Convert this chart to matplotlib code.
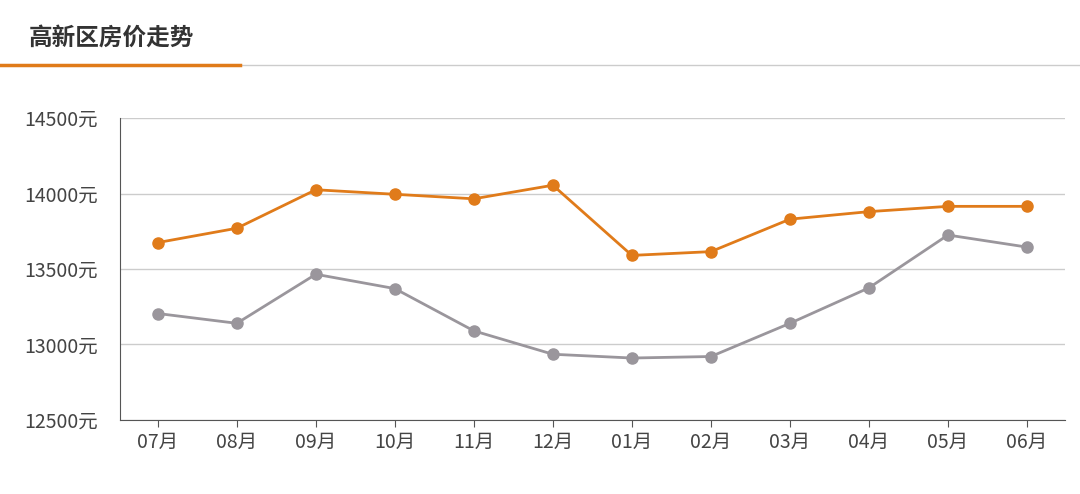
import matplotlib
matplotlib.use("Agg")
import matplotlib.pyplot as plt
from matplotlib.lines import Line2D

plt.rcParams['font.family'] = ['Noto Sans CJK SC', 'DejaVu Sans']

months = ["07月","08月","09月","10月","11月","12月","01月","02月","03月","04月","05月","06月"]
orange_vals = [13675, 13770, 14025, 13995, 13965, 14055, 13590, 13615, 13830, 13880, 13915, 13915]
gray_vals = [13205, 13140, 13465, 13370, 13090, 12935, 12910, 12920, 13140, 13375, 13725, 13645]
yticks = [12500, 13000, 13500, 14000, 14500]

fig = plt.figure(figsize=(10.8, 4.94), dpi=100)
ax = fig.add_axes([0.111, 0.150, 0.875, 0.611])
x = range(len(months))
ax.plot(x, gray_vals, color="#9a969c", lw=2, marker="o", ms=8, zorder=3)
ax.plot(x, orange_vals, color="#e07b1a", lw=2, marker="o", ms=8, zorder=4)
ax.set_xlim(-0.48, 11.48)
ax.set_ylim(12500, 14500)
ax.set_yticks(yticks)
ax.set_yticklabels([f"{v}元" for v in yticks], fontsize=14, color="#444444")
ax.set_xticks(list(x))
ax.set_xticklabels(months, fontsize=14, color="#444444")
ax.grid(axis="y", color="#cccccc", lw=1)
ax.set_axisbelow(True)
for s in ["top", "right"]:
    ax.spines[s].set_visible(False)
ax.spines["left"].set_color("#555555")
ax.spines["bottom"].set_color("#555555")
ax.tick_params(axis="y", length=0, pad=16)
ax.tick_params(axis="x", length=5, color="#555555")

fig.text(0.027, 0.923, "高新区房价走势", fontsize=17, fontweight="bold", color="#333333", va="center")
fig.add_artist(Line2D([0, 1], [0.868, 0.868], color="#cccccc", lw=1, transform=fig.transFigure))
fig.add_artist(Line2D([0, 0.222], [0.868, 0.868], color="#e07b1a", lw=2.5, transform=fig.transFigure))
fig.savefig("out.png", dpi=100)
